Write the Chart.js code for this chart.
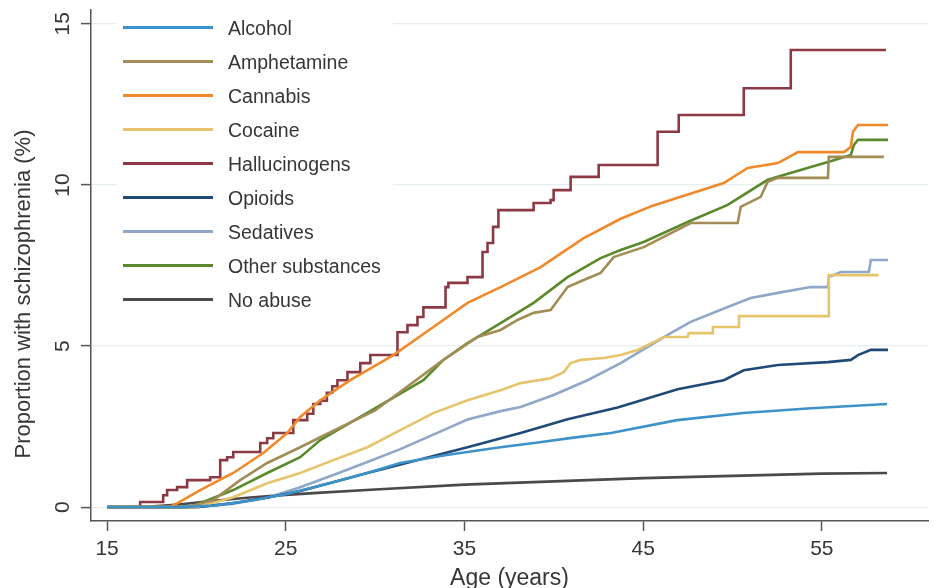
<!DOCTYPE html>
<html>
<head>
<meta charset="utf-8">
<script src="https://cdn.jsdelivr.net/npm/chart.js@4/dist/chart.umd.min.js"></script>
<style>
  html, body { margin: 0; padding: 0; background: #ffffff; }
  #wrap { width: 934px; height: 588px; position: relative; }
</style>
</head>
<body>
<div id="wrap"><canvas id="c" width="934" height="588"></canvas></div>
<script>
// ---- Tick labels / titles ----
const xTicks = [15, 25, 35, 45, 55];
const yTicks = [0, 5, 10, 15];
const xTitle = "Age (years)";
const yTitle = "Proportion with schizophrenia (%)";

// ---- Series names (legend order) ----
const seriesNames = ["Alcohol", "Amphetamine", "Cannabis", "Cocaine", "Hallucinogens",
                     "Opioids", "Sedatives", "Other substances", "No abuse"];

// ---- Series values (age in years, cumulative proportion in %) ----
const alcoholAge = [15, 19, 21, 23, 25, 27.5, 29.5, 31.4, 34, 37, 39, 41, 43.2, 46.9, 50.6, 54.4, 58.65];
const alcoholVal = [0, 0, 0.05, 0.2, 0.4, 0.75, 1.05, 1.37, 1.62, 1.86, 2.0, 2.15, 2.3, 2.7, 2.92, 3.07, 3.2];

const amphetamineAge = [15, 19.5, 20.94, 22.45, 23.96, 25.81, 26.93, 30.0, 33.82, 35.73, 37.02, 37.97, 38.87, 39.82,
                        40.77, 41.67, 42.62, 43.35, 45.03, 47.66, 50.29, 50.46, 51.58, 51.97, 52.54, 55.34, 55.39, 58.47];
const amphetamineVal = [0, 0, 0.22, 0.84, 1.37, 1.86, 2.17, 3.0, 4.57, 5.28, 5.5, 5.81, 6.03, 6.12,
                        6.83, 7.05, 7.27, 7.76, 8.07, 8.82, 8.82, 9.32, 9.63, 10.1, 10.22, 10.22, 10.87, 10.87];

const cannabisAge = [15, 18.5, 18.92, 20.21, 22.06, 23.74, 25.08, 25.81, 26.93, 28.61, 31.02, 33.26, 35.17, 37.02,
                     39.26, 41.67, 43.74, 45.5, 46.93, 49.51, 50.85, 52.54, 53.66, 56.23, 56.62, 56.74, 57.02, 58.70];
const cannabisVal = [0, 0, 0.12, 0.53, 1.06, 1.68, 2.3, 2.8, 3.32, 3.94, 4.72, 5.59, 6.34, 6.83,
                     7.45, 8.35, 8.95, 9.35, 9.6, 10.06, 10.53, 10.68, 11.02, 11.02, 11.18, 11.65, 11.86, 11.86];

const cocaineAge = [15, 20, 22.06, 23.96, 25.81, 27.66, 29.57, 31.41, 33.26, 35.17, 37.02, 38.14, 39.82, 40.55, 40.94,
                    41.50, 42.79, 43.74, 44.69, 45.59, 46.15, 47.49, 47.55, 48.89, 48.9, 50.35, 50.36, 55.38, 55.39, 58.19];
const cocaineVal = [0, 0, 0.31, 0.74, 1.06, 1.46, 1.86, 2.39, 2.92, 3.32, 3.63, 3.85, 4.0, 4.19, 4.47,
                    4.57, 4.63, 4.72, 4.88, 5.12, 5.28, 5.28, 5.40, 5.40, 5.59, 5.59, 5.93, 5.93, 7.2, 7.2];

const hallucinogensAge = [15, 16.85, 18.14, 18.36, 18.92, 19.48, 20.77, 21.33, 21.72, 22.06, 23.57, 23.96, 24.30, 25.42,
                          26.20, 26.54, 26.93, 27.3, 27.6, 27.89, 28.45, 29.17, 29.73, 31.25, 31.81, 32.37, 32.70,
                          33.94, 34.10, 35.17, 36.01, 36.29, 36.60, 36.90, 38.87, 39.82, 39.99, 40.94, 42.51,
                          45.81, 46.99, 50.63, 53.26, 58.59];
const hallucinogensVal = [0, 0.16, 0.37, 0.53, 0.62, 0.84, 0.93, 1.46, 1.55, 1.71, 1.99, 2.14, 2.3, 2.7,
                          2.9, 3.2, 3.3, 3.55, 3.75, 3.94, 4.19, 4.47, 4.72, 5.43, 5.65, 5.9, 6.2,
                          6.83, 6.96, 7.14, 7.92, 8.2, 8.7, 9.22, 9.44, 9.53, 9.84, 10.25, 10.62,
                          11.65, 12.17, 13.0, 14.19, 14.19];

const opioidsAge = [15, 20, 22, 24, 25.81, 29.57, 35.17, 38.14, 40.77, 43.57, 46.93, 49.51, 50.63, 52.54,
                    55.34, 56.62, 57.02, 57.74, 58.70];
const opioidsVal = [0, 0, 0.12, 0.3, 0.5, 1.06, 1.86, 2.3, 2.73, 3.09, 3.66, 3.94, 4.25, 4.41,
                    4.5, 4.57, 4.72, 4.88, 4.88];

const sedativesAge = [15, 20, 22, 24, 25.81, 27.66, 29.57, 31.41, 33.26, 35.17, 37.02, 38.14, 39.99, 41.89, 43.74,
                      45.42, 46.54, 47.66, 49.73, 51.02, 52.54, 54.38, 55.34, 55.39, 56.06, 57.63, 57.74, 58.70];
const sedativesVal = [0, 0, 0.1, 0.3, 0.62, 1.0, 1.4, 1.8, 2.25, 2.72, 2.98, 3.11, 3.48, 3.94, 4.47,
                      5.03, 5.40, 5.75, 6.21, 6.49, 6.65, 6.83, 6.83, 7.14, 7.3, 7.3, 7.67, 7.67];

const otherAge = [15, 19.5, 20.21, 22.06, 23.96, 25.81, 26.93, 29.17, 32.70, 33.82, 35.17, 37.02, 38.87, 40.77,
                  42.62, 43.74, 45.03, 47.49, 49.73, 51.97, 54.38, 55.34, 56.62, 56.79, 57.02, 58.70];
const otherVal = [0, 0, 0.12, 0.53, 1.06, 1.55, 2.08, 2.8, 3.94, 4.57, 5.09, 5.71, 6.34, 7.14,
                  7.73, 7.98, 8.23, 8.85, 9.38, 10.16, 10.56, 10.71, 10.93, 11.24, 11.4, 11.4];

const noAbuseAge = [15, 17, 19, 21, 23, 25, 27, 30, 35, 40, 45, 50, 55, 58.65];
const noAbuseVal = [0, 0, 0.08, 0.2, 0.3, 0.38, 0.45, 0.55, 0.7, 0.8, 0.9, 0.97, 1.04, 1.06];

// ---- Styles ----
const seriesColors = ["#3d93c9", "#a38c55", "#f0892a", "#e5c46b", "#8b3a45",
                      "#1f4a78", "#8fa8c8", "#5b8a2d", "#4a4a4a"];
const seriesStepped = [false, false, false, false, true, false, false, false, false];

const seriesAges = [alcoholAge, amphetamineAge, cannabisAge, cocaineAge, hallucinogensAge,
                    opioidsAge, sedativesAge, otherAge, noAbuseAge];
const seriesVals = [alcoholVal, amphetamineVal, cannabisVal, cocaineVal, hallucinogensVal,
                    opioidsVal, sedativesVal, otherVal, noAbuseVal];

const datasets = seriesNames.map((name, i) => ({
  label: name,
  data: seriesAges[i].map((a, j) => ({ x: a, y: seriesVals[i][j] })),
  borderColor: seriesColors[i],
  backgroundColor: seriesColors[i],
  borderWidth: 2.6,
  pointRadius: 0,
  tension: 0,
  stepped: seriesStepped[i],
  fill: false
}));

const FONT = '"Liberation Sans", Arial, sans-serif';
const TEXT = '#363636';

const customDraw = {
  id: 'customDraw',
  beforeDatasetsDraw(chart) {
    const ctx = chart.ctx;
    ctx.save();
    // legend box (white, covers gridlines)
    ctx.fillStyle = '#ffffff';
    ctx.fillRect(117, 11, 276, 310);
    ctx.font = '19.5px ' + FONT;
    ctx.textAlign = 'left';
    ctx.textBaseline = 'alphabetic';
    seriesNames.forEach((name, i) => {
      const yy = 27.5 + i * 34;
      ctx.strokeStyle = seriesColors[i];
      ctx.lineWidth = 3;
      ctx.beginPath();
      ctx.moveTo(123, yy);
      ctx.lineTo(213, yy);
      ctx.stroke();
      ctx.fillStyle = TEXT;
      ctx.fillText(name, 228, yy + 7);
    });
    ctx.restore();
  },
  afterDraw(chart) {
    const ctx = chart.ctx;
    const xs = chart.scales.x, ys = chart.scales.y;
    ctx.save();
    ctx.fillStyle = TEXT;
    // x tick labels
    ctx.font = '21px ' + FONT;
    ctx.textAlign = 'center';
    ctx.textBaseline = 'alphabetic';
    xTicks.forEach(v => ctx.fillText(String(v), xs.getPixelForValue(v), 555));
    // y tick labels (rotated)
    yTicks.forEach(v => {
      ctx.save();
      ctx.translate(69, ys.getPixelForValue(v));
      ctx.rotate(-Math.PI / 2);
      ctx.textAlign = 'center';
      ctx.textBaseline = 'alphabetic';
      ctx.fillText(String(v), 0, 0);
      ctx.restore();
    });
    // x title
    ctx.font = '23px ' + FONT;
    ctx.textAlign = 'center';
    ctx.fillText(xTitle, (chart.chartArea.left + chart.chartArea.right) / 2, 585);
    // y title
    ctx.font = '22px ' + FONT;
    ctx.save();
    ctx.translate(30, 294);
    ctx.rotate(-Math.PI / 2);
    ctx.textAlign = 'center';
    ctx.fillText(yTitle, 0, 0);
    ctx.restore();
    ctx.restore();
  }
};

new Chart(document.getElementById('c'), {
  type: 'line',
  data: { datasets },
  plugins: [customDraw],
  options: {
    responsive: false,
    animation: false,
    layout: { padding: { left: 81, right: 6, top: 10, bottom: 57 } },
    plugins: { legend: { display: false }, tooltip: { enabled: false } },
    scales: {
      x: {
        type: 'linear',
        min: 14.1,
        max: 60.94,
        afterBuildTicks: s => { s.ticks = xTicks.map(v => ({ value: v })); },
        ticks: { display: false },
        grid: { drawOnChartArea: false, drawTicks: true, tickLength: 10, tickColor: '#555555', tickWidth: 1.5 },
        border: { display: true, color: '#555555', width: 1.5 }
      },
      y: {
        type: 'linear',
        min: -0.43,
        max: 15.43,
        afterBuildTicks: s => { s.ticks = yTicks.map(v => ({ value: v })); },
        ticks: { display: false },
        grid: { drawOnChartArea: true, color: '#e5eef0', lineWidth: 1.2, drawTicks: true, tickLength: 10, tickColor: '#555555', tickWidth: 1.5 },
        border: { display: true, color: '#555555', width: 1.5 }
      }
    }
  }
});
</script>
</body>
</html>
